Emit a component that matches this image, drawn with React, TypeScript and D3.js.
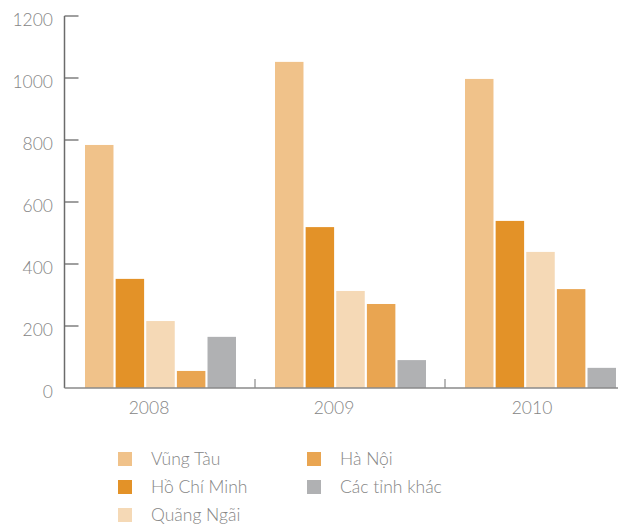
import React from "react";
import * as d3 from "d3";

const years = ["2008", "2009", "2010"];
const seriesNames = ["Vũng Tàu", "Hồ Chí Minh", "Quãng Ngãi", "Hà Nội", "Các tỉnh khác"];
const seriesColors = ["#F0C28A", "#E39228", "#F5D9B6", "#E9A551", "#B0B1B3"];
const vungTau = [784, 1052, 997];
const hoChiMinh = [352, 519, 539];
const quangNgai = [216, 313, 439];
const haNoi = [55, 271, 319];
const cacTinhKhac = [165, 90, 65];
const yTicks = [0, 200, 400, 600, 800, 1000, 1200];

const seriesValues = [vungTau, hoChiMinh, quangNgai, haNoi, cacTinhKhac];

export default function App() {
  const W = 629, H = 524;
  const axisX = 64.5;
  const baseY = 388;
  const y = d3.scaleLinear().domain([0, 1200]).range([baseY, 16]);
  const x0 = d3.scaleBand<string>().domain(years).range([65, 635]).paddingInner(0).paddingOuter(0);
  const x1 = d3.scaleBand<string>().domain(seriesNames).range([20, 171]).paddingInner(0.07).paddingOuter(0);
  const font = "Lato, 'DejaVu Sans', sans-serif";
  const textColor = "#858585";

  const legendPos = [
    { x: 118, y: 452 },
    { x: 118, y: 480 },
    { x: 118, y: 508 },
    { x: 307, y: 452 },
    { x: 307, y: 480 },
  ];

  return (
    <svg width={W} height={H} style={{ position: "absolute", left: 0, top: 0, background: "#fff" }}>
      {/* bars */}
      {years.map((yr, i) => (
        <g key={yr} transform={`translate(${x0(yr)},0)`}>
          {seriesNames.map((s, j) => (
            <rect
              key={s}
              x={x1(s)}
              width={x1.bandwidth()}
              y={y(seriesValues[j][i])}
              height={baseY - y(seriesValues[j][i])}
              fill={seriesColors[j]}
            />
          ))}
        </g>
      ))}
      {/* y axis */}
      <line x1={axisX} x2={axisX} y1={y(1200)} y2={baseY} stroke="#6b6b6b" strokeWidth={1.5} />
      {yTicks.map((t) => (
        <g key={t}>
          {t > 0 && <line x1={axisX} x2={axisX + 14} y1={y(t)} y2={y(t)} stroke="#6b6b6b" strokeWidth={1.3} />}
          <text x={53} y={y(t) + 10} textAnchor="end" fontFamily={font} fontWeight={300} fontSize={17.5} fill={textColor}>
            {t}
          </text>
        </g>
      ))}
      {/* x axis */}
      <line x1={axisX} x2={618} y1={baseY} y2={baseY} stroke="#8a8a8a" strokeWidth={1.5} />
      {years.slice(1).map((yr) => (
        <line key={yr} x1={x0(yr)} x2={x0(yr)} y1={baseY} y2={baseY - 9} stroke="#8a8a8a" strokeWidth={1.2} />
      ))}
      {years.map((yr, i) => (
        <text
          key={yr}
          x={(x0(yr) as number) + x0.bandwidth() / 2 - [11, 16, 8][i]}
          y={414}
          textAnchor="middle"
          fontFamily={font}
          fontWeight={300}
          fontSize={17.5}
          fill={textColor}
        >
          {yr}
        </text>
      ))}
      {/* legend */}
      {seriesNames.map((s, j) => (
        <g key={s}>
          <rect x={legendPos[j].x} y={legendPos[j].y} width={14} height={14} fill={seriesColors[j]} />
          <text x={legendPos[j].x + 33} y={legendPos[j].y + 12.5} fontFamily={font} fontWeight={300} fontSize={17.5} fill={textColor}>
            {s}
          </text>
        </g>
      ))}
    </svg>
  );
}
